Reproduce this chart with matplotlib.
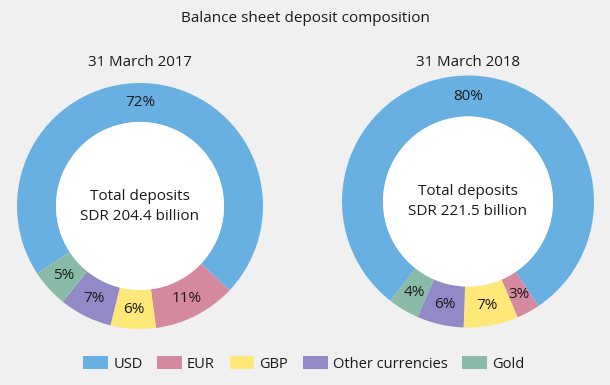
import numpy as np
import matplotlib.pyplot as plt
from matplotlib.patches import Patch

plt.rcParams['font.family'] = ['Open Sans', 'DejaVu Sans']

# Data
categories = ['USD', 'EUR', 'GBP', 'Other currencies', 'Gold']
shares_2017 = [72, 11, 6, 7, 5]
shares_2018 = [80, 3, 7, 6, 4]
totals = ['SDR 204.4 billion', 'SDR 221.5 billion']
dates = ['31 March 2017', '31 March 2018']
colors = ['#68b0e1', '#d5899e', '#ffe878', '#918ac6', '#8abba8']

bg = '#f0f0f0'
txt = '#1a1a1a'

fig = plt.figure(figsize=(6.1, 3.85), dpi=100, facecolor=bg)
ax = fig.add_axes([0, 0, 1, 1])
ax.set_facecolor(bg)

H = 385
# centre, outer radius, inner radius, clockwise twist of the ring (deg)
layout = [((140, H - 206), 123, 84, 5), ((468, H - 201.5), 126, 85, 2)]

for shares, total, date, (c, R, r, twist) in zip([shares_2017, shares_2018], totals, dates, layout):
    cx, cy = c
    frac = shares[0] / sum(shares)
    wedges, _ = ax.pie(shares, colors=colors, radius=R, center=(cx, cy),
                       startangle=90 + 180 * frac - twist, counterclock=False,
                       wedgeprops=dict(width=R - r, linewidth=0), frame=True)
    rm = (R + r) / 2
    for i, (w, v) in enumerate(zip(wedges, shares)):
        ang = 90 if i == 0 else (w.theta1 + w.theta2) / 2
        ang = np.deg2rad(ang)
        ax.text(cx + rm * np.cos(ang), cy + rm * np.sin(ang), f'{v}%',
                ha='center', va='center', fontsize=11, color=txt)
    ax.add_patch(plt.Circle((cx, cy), r, color='white', lw=0))
    ax.text(cx, cy + 10, 'Total deposits', ha='center', va='center', fontsize=11, color=txt)
    ax.text(cx, cy - 10, total, ha='center', va='center', fontsize=11, color=txt)

for date, x in zip(dates, [140, 468]):
    ax.text(x, H - 62, date, ha='center', va='center', fontsize=10.8, color=txt)

ax.text(305, H - 19, 'Balance sheet deposit composition', ha='center', va='center',
        fontsize=11, color=txt)

ax.set_xlim(0, 610)
ax.set_ylim(0, H)
ax.set_aspect('equal')
ax.axis('off')

handles = [Patch(facecolor=c, edgecolor='none') for c in colors]
fig.legend(handles, categories, loc='center', bbox_to_anchor=(0.498, 1 - 364 / H),
           ncol=5, frameon=False, fontsize=10.5, handlelength=1.7, handleheight=0.9,
           handletextpad=0.35, columnspacing=1.0, labelcolor=txt)

fig.savefig('out.png', dpi=100, facecolor=bg)
